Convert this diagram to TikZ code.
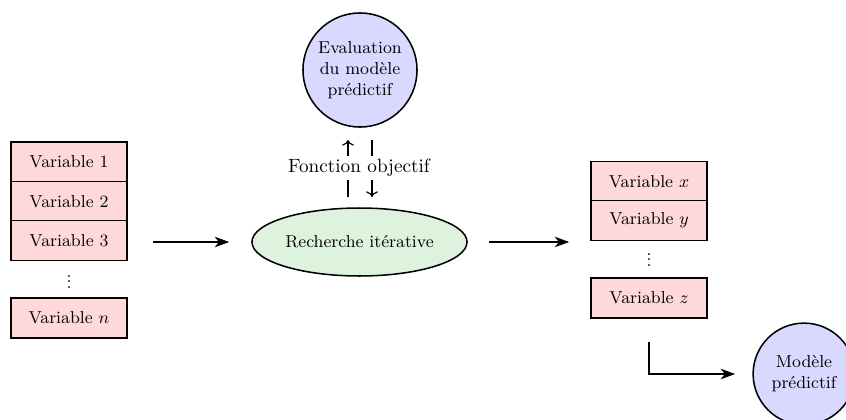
\documentclass[tikz,border=0pt]{standalone}
\usetikzlibrary{shapes.geometric,arrows.meta}
\definecolor{ellfill}{RGB}{222,243,222}
\newcommand{\coldots}{\vbox{\baselineskip2.7pt\lineskiplimit0pt\hbox{.}\hbox{.}\hbox{.}}}
\begin{document}
\begin{tikzpicture}[x=0.5208pt,y=-0.5208pt,
  varbox/.style={draw,thick,fill=red!15,minimum width=60.4pt,minimum height=20.6pt,inner sep=0pt,font=\small},
  circnode/.style={circle,draw,thick,fill=blue!15,inner sep=0pt,align=center,font=\small},
  bigarrow/.style={-{Stealth[length=7.5pt,width=5.5pt,inset=2.2pt]},semithick},
  smallarrow/.style={->,semithick},
  dotsnode/.style={font=\small,inner sep=0pt}]
\useasboundingbox (0,0) rectangle (846,419);

% left column
\node[varbox] (v1) at (69,162) {Variable 1};
\node[varbox] (v2) at (69,201.5) {Variable 2};
\node[varbox] (v3) at (69,240.5) {Variable 3};
\node[dotsnode] (ld) at (69,282) {\coldots};
\node[varbox] (vn) at (69,318) {Variable $n$};

% centre
\node[ellipse,draw,thick,fill=ellfill,minimum width=112pt,minimum height=35.4pt,inner sep=0pt,font=\small] (rech) at (359.5,242) {Recherche itérative};
\node[circnode,minimum size=59.4pt] (eval) at (360,70) {Evaluation\\du modèle\\prédictif};

\coordinate (ub) at (348,197);
\coordinate (ut) at (348,140);
\coordinate (dt) at (372,140);
\coordinate (db) at (372,197);
\draw[smallarrow] (ub) -- (ut);
\draw[smallarrow] (dt) -- (db);
\node[fill=white,inner sep=1.5pt] (fo) at (359,168) {Fonction objectif};

% right column
\node[varbox] (vx) at (649,181.5) {Variable $x$};
\node[varbox] (vy) at (649,220.5) {Variable $y$};
\node[dotsnode] (rd) at (649,260) {\coldots};
\node[varbox] (vz) at (649,298) {Variable $z$};

\node[circnode,minimum size=53pt] (mod) at (804,374) {Modèle\\prédictif};

% connectors
\draw[bigarrow,shorten <=13pt,shorten >=11.5pt] (v3.east |- rech.west) -- (rech.west);
\draw[bigarrow,shorten <=11pt,shorten >=11pt] (rech.east) -- (rech.east -| vy.west);
\coordinate (c1) at (649,342);
\draw[bigarrow,shorten >=9pt] (c1) |- (mod.west);
\end{tikzpicture}
\end{document}
